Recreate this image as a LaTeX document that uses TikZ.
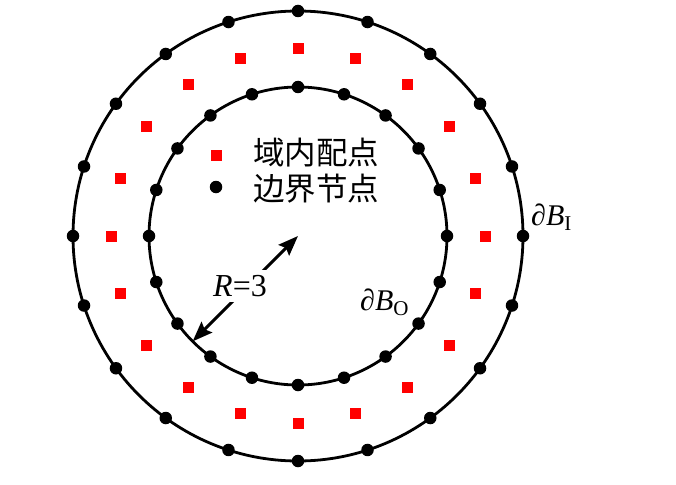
\documentclass[tikz,border=0pt]{standalone}
\usepackage{fontspec}
\setmainfont{Liberation Serif}
\newfontfamily\cjk{Noto Sans CJK SC}
\usetikzlibrary{arrows.meta,calc}
\begin{document}
\begin{tikzpicture}[x=1pt,y=-1pt,
  ring/.style={draw=black,line width=2.8pt},
  bdot/.style={circle,fill=black,inner sep=0pt,minimum size=12.5pt},
  rsq/.style={rectangle,fill=red,inner sep=0pt,minimum size=11pt},
  arr/.style={line width=3pt,{Stealth[length=20pt,width=15pt,inset=3pt]}-{Stealth[length=20pt,width=15pt,inset=3pt]}},
  lab/.style={font=\fontsize{30}{34}\selectfont,inner sep=0pt},
  cjklab/.style={font=\cjk\fontsize{31.5}{36}\selectfont,inner sep=0pt,anchor=west}]
\useasboundingbox (0,0) rectangle (676,484);
\coordinate (c) at (298,236);
\draw[ring] (c) circle[radius=225];
\draw[ring] (c) circle[radius=149];
\foreach \k in {0,...,19}{
  \pgfmathsetmacro{\a}{90-18*\k}
  \node[bdot] (o\k) at ($(c)+(\a:225)$) {};
  \node[bdot] (i\k) at ($(c)+(\a:149)$) {};
  \node[rsq] (m\k) at ($(c)+(\a:187)$) {};
}
\coordinate (p) at ($(c)+(135:149)$);
\draw[arr] (p) -- (c);
\node[lab,fill=white,inner sep=5pt,font=\fontsize{32}{36}\selectfont] (rl) at (240,286) {\textit{R}=3};
\node[lab,anchor=west] (bi) at (531,217) {\textit{∂B}\textsubscript{I}};
\node[lab,anchor=west] (bo) at (360,302) {\textit{∂B}\textsubscript{O}};
\node[rsq] (lsq) at (216,155) {};
\node[bdot,minimum size=12.5pt] (ldot) at (216,187) {};
\node[cjklab] (t1) at (253,153) {域内配点};
\node[cjklab] (t2) at (253,189) {边界节点};
\end{tikzpicture}
\end{document}
